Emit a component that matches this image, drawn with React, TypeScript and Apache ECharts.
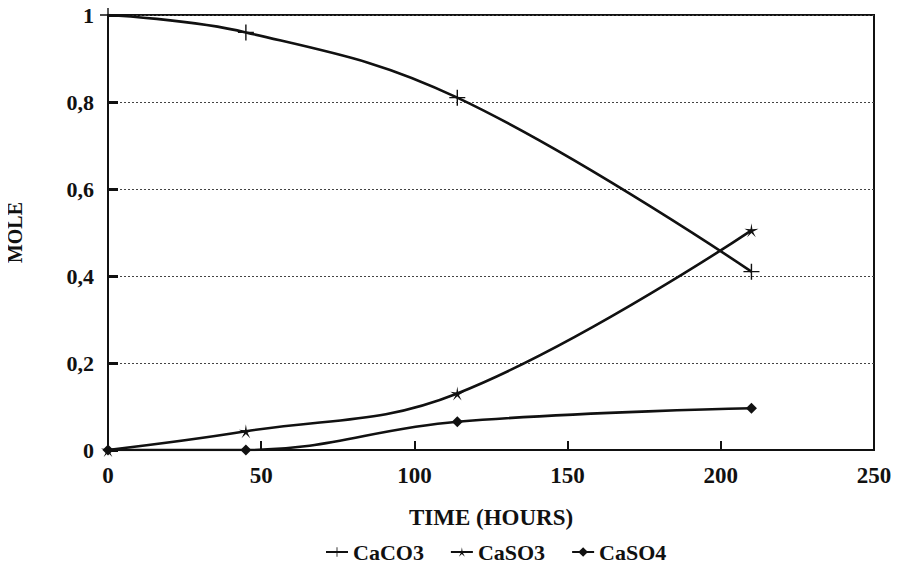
import React, { useEffect, useRef } from "react";
import * as echarts from "echarts";

// Sampling times (hours) and mole fractions per compound
const times = [0, 45, 114, 210];
const caco3 = [1, 0.96, 0.81, 0.41];
const caso3 = [0, 0.043, 0.13, 0.505];
const caso4 = [0, 0, 0.065, 0.096];
const seriesNames = ["CaCO3", "CaSO3", "CaSO4"];

const FONT = "'Liberation Serif', 'Times New Roman', serif";

const PLUS = "path://M-0.7,-8 L0.7,-8 L0.7,8 L-0.7,8 Z M-8,-0.7 L8,-0.7 L8,0.7 L-8,0.7 Z";
const STAR =
  "path://M0,-10 L1.3,-2.2 L9.5,-3 L2.2,0.9 L5.9,8.1 L0,2.6 L-5.9,8.1 L-2.2,0.9 L-9.5,-3 L-1.3,-2.2 Z";

export default function App() {
  const ref = useRef<HTMLDivElement>(null);

  useEffect(() => {
    if (!ref.current) return;
    const chart = echarts.init(ref.current, null, { renderer: "svg" });
    const pairs = (ys: number[]) => times.map((t, i) => [t, ys[i]]);
    const lineStyle = { color: "#111", width: 2.6 };
    chart.setOption({
      animation: false,
      backgroundColor: "#fff",
      grid: {
        left: 108,
        right: 25,
        top: 15,
        bottom: 120,
        outerBoundsMode: "none",
        containLabel: false,
        show: true,
        borderColor: "#111",
        borderWidth: 2,
        backgroundColor: "transparent",
      },
      legend: {
        bottom: 2,
        left: 320,
        itemWidth: 22,
        itemHeight: 12,
        itemGap: 26,
        textStyle: { fontFamily: FONT, fontWeight: "bold", fontSize: 22, color: "#111" },
        data: seriesNames,
      },
      xAxis: {
        type: "value",
        min: 0,
        max: 250,
        interval: 50,
        name: "TIME (HOURS)",
        nameLocation: "middle",
        nameGap: 56,
        nameTextStyle: { fontFamily: FONT, fontWeight: "bold", fontSize: 23, color: "#111" },
        axisLine: { show: true, lineStyle: { color: "#111", width: 2 } },
        axisTick: { show: true, inside: true, length: 9, lineStyle: { color: "#111", width: 2 } },
        axisLabel: { fontFamily: FONT, fontWeight: "bold", fontSize: 23, color: "#111", margin: 14 },
        splitLine: { show: false },
      },
      yAxis: {
        type: "value",
        min: 0,
        max: 1,
        interval: 0.2,
        name: "MOLE",
        nameLocation: "middle",
        nameGap: 83,
        nameRotate: 90,
        nameTextStyle: { fontFamily: FONT, fontWeight: "bold", fontSize: 20, color: "#111" },
        axisLine: { show: true, lineStyle: { color: "#111", width: 2 } },
        axisTick: { show: true, inside: true, length: 10, lineStyle: { color: "#111", width: 3 } },
        axisLabel: {
          fontFamily: FONT,
          fontWeight: "bold",
          fontSize: 22,
          color: "#111",
          margin: 14,
          formatter: (v: number) => String(Math.round(v * 10) / 10).replace(".", ","),
        },
        splitLine: { show: true, lineStyle: { color: "#444", width: 1, type: [2, 2] } },
      },
      series: [
        {
          name: seriesNames[0],
          type: "line",
          smooth: 0.4,
          data: pairs(caco3),
          symbol: PLUS,
          symbolSize: 16,
          itemStyle: { color: "#111" },
          lineStyle,
        },
        {
          name: seriesNames[1],
          type: "line",
          smooth: 0.4,
          data: pairs(caso3),
          symbol: STAR,
          symbolSize: 14,
          itemStyle: { color: "#111" },
          lineStyle,
        },
        {
          name: seriesNames[2],
          type: "line",
          smooth: 0.4,
          data: pairs(caso4),
          symbol: "diamond",
          symbolSize: 11,
          itemStyle: { color: "#111" },
          lineStyle,
        },
      ],
    });
    return () => chart.dispose();
  }, []);

  // Negative margin cancels the body's default 8px so the chart fills the window
  return <div ref={ref} style={{ width: 899, height: 570, margin: -8 }} />;
}
